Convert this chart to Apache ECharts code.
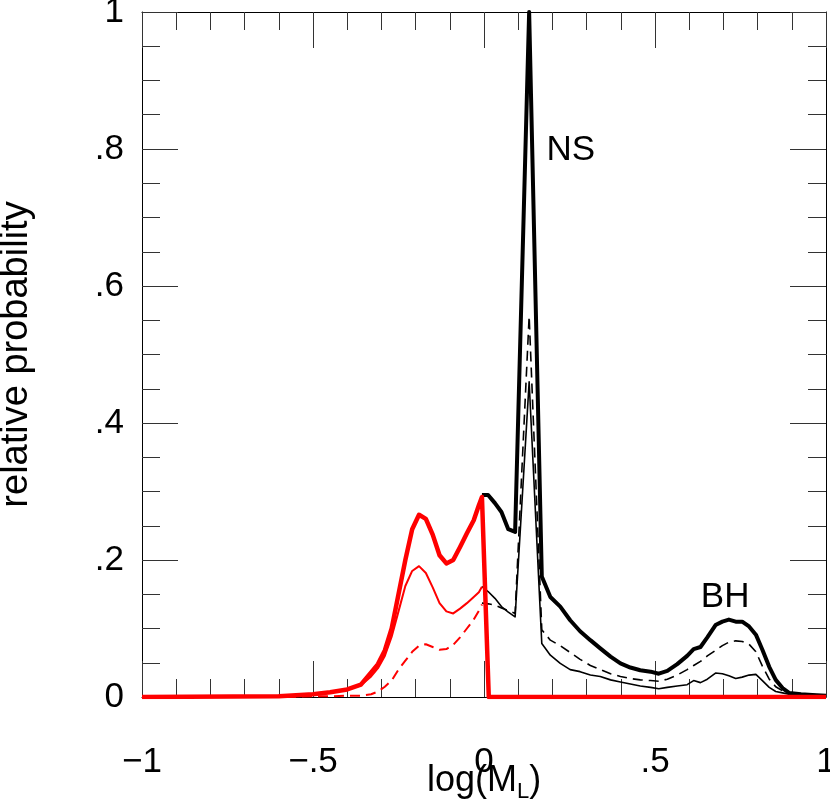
<!DOCTYPE html>
<html>
<head>
<meta charset="utf-8">
<script src="https://cdn.jsdelivr.net/npm/echarts@6/dist/echarts.min.js"></script>
<style>
  html, body { margin: 0; padding: 0; background: #fff; }
  #chart { width: 830px; height: 809px; }
</style>
</head>
<body>
<div id="chart"></div>
<script>
// red curves (x < 0)
const wdX = [-1, -0.6, -0.5, -0.45, -0.4, -0.36, -0.33, -0.31, -0.29, -0.27, -0.25, -0.23,
  -0.21, -0.19, -0.17, -0.15, -0.13, -0.11, -0.09, -0.07, -0.05, -0.03, -0.015, -0.006];
const wdThick = [0, 0.001, 0.004, 0.007, 0.011, 0.018, 0.036, 0.048, 0.068, 0.1, 0.15, 0.2,
  0.245, 0.266, 0.26, 0.237, 0.207, 0.195, 0.2, 0.219, 0.239, 0.258, 0.28, 0.292];
const wdThin = [0, 0.001, 0.004, 0.007, 0.011, 0.017, 0.03, 0.042, 0.06, 0.088, 0.125, 0.162,
  0.184, 0.191, 0.181, 0.16, 0.137, 0.125, 0.122, 0.129, 0.137, 0.146, 0.153, 0.161];
const wdDash = [0, 0, 0.001, 0.001, 0.002, 0.002, 0.004, 0.008, 0.015, 0.024, 0.04, 0.053,
  0.066, 0.075, 0.077, 0.073, 0.069, 0.07, 0.076, 0.087, 0.1, 0.113, 0.126, 0.135];
// thick red drops to zero and runs along the bottom
const dropX = [0.014, 1];
const dropY = [0, 0];

// black curves (x > 0)
const nsX = [-0.006, 0.012, 0.032, 0.051, 0.071, 0.091, 0.132, 0.169, 0.194, 0.223, 0.252,
  0.281, 0.311, 0.34, 0.37, 0.399, 0.428, 0.457, 0.487, 0.511, 0.536, 0.565, 0.594, 0.613,
  0.633, 0.653, 0.677, 0.697, 0.716, 0.736, 0.755, 0.775, 0.795, 0.814, 0.834, 0.853, 0.873,
  0.892, 0.927, 0.96, 1.0];
const totThick = [0.295, 0.295, 0.283, 0.27, 0.245, 0.241, 1.0, 0.176, 0.146, 0.132, 0.112,
  0.096, 0.083, 0.071, 0.059, 0.049, 0.043, 0.039, 0.037, 0.034, 0.038, 0.048, 0.06, 0.07,
  0.073, 0.087, 0.105, 0.11, 0.113, 0.11, 0.11, 0.103, 0.091, 0.069, 0.044, 0.025, 0.013,
  0.006, 0.004, 0.003, 0.002];
const totDash = [0.137, 0.136, 0.134, 0.13, 0.126, 0.122, 0.556, 0.098, 0.083, 0.075, 0.065,
  0.055, 0.046, 0.04, 0.034, 0.03, 0.027, 0.025, 0.024, 0.023, 0.026, 0.032, 0.04, 0.046,
  0.052, 0.06, 0.068, 0.075, 0.08, 0.082, 0.081, 0.077, 0.066, 0.045, 0.026, 0.015, 0.009,
  0.005, 0.003, 0.002, 0.002];
const totThin = [0.161, 0.154, 0.144, 0.132, 0.124, 0.117, 0.46, 0.078, 0.061, 0.049, 0.04,
  0.037, 0.032, 0.03, 0.025, 0.022, 0.019, 0.016, 0.014, 0.012, 0.014, 0.016, 0.018, 0.024,
  0.021, 0.026, 0.035, 0.034, 0.031, 0.027, 0.029, 0.032, 0.033, 0.024, 0.014, 0.008, 0.006,
  0.004, 0.003, 0.002, 0.002];

const xTicks = [-1, -0.5, 0, 0.5, 1];
const yTicks = [0, 0.2, 0.4, 0.6, 0.8, 1];
const labels = [
  { text: 'NS', x: 0.254, y: 0.798 },
  { text: 'BH', x: 0.705, y: 0.145 }
];

const FONT = 'Liberation Sans';

function fmt(v) {
  const a = Number(Math.abs(v).toFixed(2));
  if (a === 0) return '0';
  let s = String(a).replace(/^0\./, '.');
  return (v < 0 ? '\u2212' : '') + s;
}

function pairs(xs, ys) {
  return xs.map((x, i) => [x, ys[i]]);
}

function line(data, color, width, dashed) {
  return {
    type: 'line',
    data: data,
    xAxisIndex: 0,
    yAxisIndex: 0,
    showSymbol: false,
    symbol: 'none',
    silent: true,
    lineStyle: { color: color, width: width, type: dashed ? [10, 6] : 'solid', join: 'round' }
  };
}

const tickStyle = { color: '#333', width: 1 };

function xAxis(pos, showLabel) {
  return {
    type: 'value', position: pos, min: -1, max: 1, interval: 0.5,
    axisLine: { show: true, onZero: false, lineStyle: { color: '#000', width: 1 } },
    axisTick: { show: true, inside: true, length: 36, lineStyle: tickStyle },
    minorTick: { show: true, splitNumber: 5, length: 18, lineStyle: tickStyle },
    splitLine: { show: false },
    axisLabel: {
      show: showLabel, margin: 48, fontSize: 35, fontFamily: FONT, color: '#000',
      formatter: v => xTicks.indexOf(Number(v.toFixed(2))) >= 0 ? fmt(v) : ''
    }
  };
}

function yAxis(pos, showLabel) {
  return {
    type: 'value', position: pos, min: 0, max: 1, interval: 0.2,
    axisLine: { show: true, onZero: false, lineStyle: { color: '#000', width: 1 } },
    axisTick: { show: true, inside: true, length: 36, lineStyle: tickStyle },
    minorTick: { show: true, splitNumber: 4, length: 18, lineStyle: tickStyle },
    splitLine: { show: false },
    axisLabel: {
      show: showLabel, margin: 18, fontSize: 35, fontFamily: FONT, color: '#000',
      formatter: v => yTicks.indexOf(Number(v.toFixed(2))) >= 0 ? fmt(v) : ''
    }
  };
}

const chart = echarts.init(document.getElementById('chart'));

const xb = xAxis('bottom', true);
xb.name = '{n|log(M}{s|L}{n|)}';
xb.nameLocation = 'middle';
xb.nameGap = 66;
xb.nameMoveOverlap = false;
xb.nameTextStyle = {
  color: '#000', fontFamily: FONT,
  rich: {
    n: { fontSize: 36, fontFamily: FONT, color: '#000', lineHeight: 40, verticalAlign: 'top' },
    s: { fontSize: 22, fontFamily: FONT, color: '#000', lineHeight: 14, verticalAlign: 'bottom' }
  }
};

const yl = yAxis('left', true);
yl.name = 'relative probability';
yl.nameLocation = 'middle';
yl.nameGap = 106;
yl.nameMoveOverlap = false;
yl.nameTextStyle = { color: '#000', fontSize: 38, fontFamily: FONT };

chart.setOption({
  animation: false,
  backgroundColor: '#fff',
  grid: { left: 142, right: 4, top: 12, bottom: 112, containLabel: false, outerBoundsMode: 'none' },
  xAxis: [xb, xAxis('top', false)],
  yAxis: [yl, yAxis('right', false)],
  series: [
    line(pairs(nsX, totThick), '#000', 4, false),
    line(pairs(nsX, totThin), '#000', 1.6, false),
    line(pairs(nsX, totDash), '#000', 1.6, true),
    line(pairs(wdX, wdDash), '#ff0000', 2, true),
    line(pairs(wdX, wdThin), '#ff0000', 2, false),
    line(pairs(wdX.concat(dropX), wdThick.concat(dropY)), '#ff0000', 4.5, false)
  ]
});

chart.setOption({
  graphic: labels.map(l => {
    const p = chart.convertToPixel({ xAxisIndex: 0, yAxisIndex: 0 }, [l.x, l.y]);
    return {
      type: 'text', x: p[0], y: p[1], silent: true,
      style: { text: l.text, fontSize: 35, fontFamily: FONT, fill: '#000', align: 'center', verticalAlign: 'middle' }
    };
  })
});
</script>
</body>
</html>
